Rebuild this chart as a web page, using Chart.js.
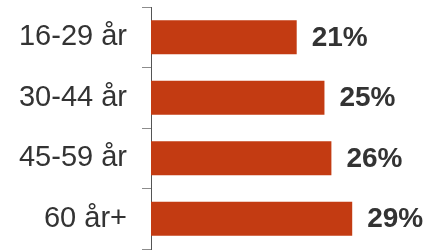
<!DOCTYPE html>
<html>
<head>
<meta charset="utf-8">
<script src="https://cdn.jsdelivr.net/npm/chart.js@4"></script>
<style>
  html, body { margin: 0; padding: 0; background: #fff; }
  #wrap { width: 432px; height: 250px; position: relative; }
</style>
</head>
<body>
<div id="wrap"><canvas id="myChart"></canvas></div>
<script>
const ageGroups = ["16-29 år", "30-44 år", "45-59 år", "60 år+"];
const shares = [21, 25, 26, 29];

const FONT = "'Liberation Sans', Arial, sans-serif";

// draws the "21%" labels next to the bars
const valueLabels = {
  id: "valueLabels",
  afterDatasetsDraw(chart) {
    const ctx = chart.ctx;
    const meta = chart.getDatasetMeta(0);
    ctx.save();
    ctx.font = "bold 28px " + FONT;
    ctx.fillStyle = "#333333";
    ctx.textAlign = "left";
    ctx.textBaseline = "middle";
    meta.data.forEach((bar, i) => {
      ctx.fillText(shares[i] + "%", bar.x + 15, bar.y + 1);
    });
    ctx.restore();
  },
};

const ctx = document.getElementById("myChart");

new Chart(ctx, {
  type: "bar",
  data: {
    labels: ageGroups,
    datasets: [
      {
        data: shares,
        backgroundColor: "#c33b12",
        borderWidth: 0,
        barPercentage: 0.56,
        categoryPercentage: 1,
      },
    ],
  },
  options: {
    indexAxis: "y",
    responsive: true,
    maintainAspectRatio: false,
    animation: false,
    layout: { padding: { top: 7, bottom: 1, left: 0, right: 0 } },
    plugins: {
      legend: { display: false },
      tooltip: { enabled: false },
    },
    scales: {
      x: {
        display: false,
        min: 0,
        max: 40.5,
      },
      y: {
        offset: true,
        afterFit(scale) {
          scale.width = 151;
          // big labels would otherwise push the plot area in
          scale.paddingTop = 0;
          scale.paddingBottom = 0;
        },
        grid: {
          offset: true,
          drawOnChartArea: false,
          tickLength: 9,
          color: "#8c8c8c",
        },
        border: { color: "#555555", width: 1 },
        ticks: {
          color: "#333333",
          padding: 15,
          font: { family: FONT, size: 29 },
        },
      },
    },
  },
  plugins: [valueLabels],
});
</script>
</body>
</html>
